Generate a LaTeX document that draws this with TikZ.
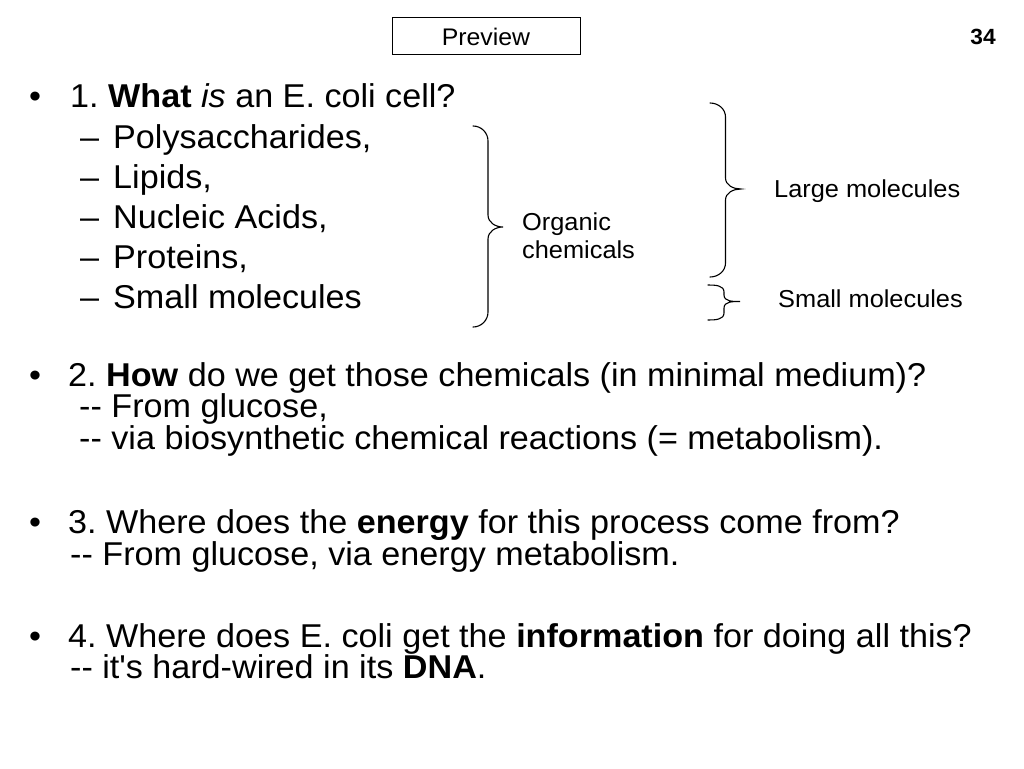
\documentclass[tikz,border=0pt]{standalone}
\usepackage{fontspec}
\setmainfont{Liberation Sans}[FakeStretch=1.035]
\newcommand\dashdash{\mbox{-}\mbox{-}}
\frenchspacing

\begin{document}
\begin{tikzpicture}[x=1pt,y=1pt]
\tikzstyle{every node}+=[inner sep=0pt]
\tikzset{
  body/.style={anchor=base west,font=\fontsize{33}{33}\selectfont},
  note/.style={anchor=base west,font=\fontsize{24.5}{24.5}\selectfont},
  bracket/.style={line width=1.1pt,line cap=round}
}
\useasboundingbox (0,0) rectangle (1024,-768);
% header
\node [draw,line width=0.9pt,minimum width=188pt,minimum height=37pt,
  text height=20pt,text depth=0pt,font=\fontsize{24}{24}\selectfont] (preview) at (486,-35.5) {Preview};
\node [anchor=base east,font=\bfseries\fontsize{22}{22}\selectfont] (page) at (996,-45) {34};
% question 1
\node [body] (dot1) at (29,-107) {•};
\node [body] (q1) at (70,-107) {1. \textbf{What} \textit{is} an E. coli cell?};
\foreach \word [count=\k] in {{Polysaccharides,},{Lipids,},{Nucleic Acids,},{Proteins,},{Small molecules}} {
  \node [body] (dash\k) at (80,-108-40*\k) {–};
  \node [body] (part\k) at (113,-108-40*\k) {\word};
}
% braces
\draw [bracket] (473,-126) to[out=0,in=90] (488,-141) -- (488,-215)
  to[out=-90,in=180] (503,-227) to[out=180,in=90] (488,-239) -- (488,-312)
  to[out=-90,in=0] (473,-327);
\draw [bracket] (710,-103) to[out=0,in=90] (725.5,-117) -- (725.5,-178)
  to[out=-90,in=180] (741,-189) to[out=180,in=90] (725.5,-200) -- (725.5,-263)
  to[out=-90,in=0] (710,-277);
\draw [bracket] (708,-285) to[out=0,in=90] (724,-292) -- (724,-295)
  to[out=-90,in=180] (740,-301.5) to[out=180,in=90] (724,-308) -- (724,-313)
  to[out=-90,in=0] (708,-320);
\node [note] (organic) at (522,-230) {Organic};
\node [note] (chemicals) at (522,-258) {chemicals};
\node [note] (large) at (774,-197) {Large molecules};
\node [note] (small) at (778,-307) {Small molecules};
% question 2
\node [body] (dot2) at (29,-386) {•};
\node [body] (q2) at (68,-386) {2. \textbf{How} do we get those chemicals (in minimal medium)?};
\node [body] (q2a) at (79,-417) {\dashdash{} From glucose,};
\node [body] (q2b) at (79,-449) {\dashdash{} via biosynthetic chemical reactions (= metabolism).};
% question 3
\node [body] (dot3) at (29,-533) {•};
\node [body] (q3) at (68,-533) {3. Where does the \textbf{energy} for this process come from?};
\node [body] (q3a) at (70,-565) {\dashdash{} From glucose, via energy metabolism.};
% question 4
\node [body] (dot4) at (29,-647) {•};
\node [body] (q4) at (68,-647) {4. Where does E. coli get the \textbf{information} for doing all this?};
\node [body] (q4a) at (70,-678) {\dashdash{} it\textquotesingle s hard-wired in its \textbf{DNA}.};
\end{tikzpicture}
\end{document}
